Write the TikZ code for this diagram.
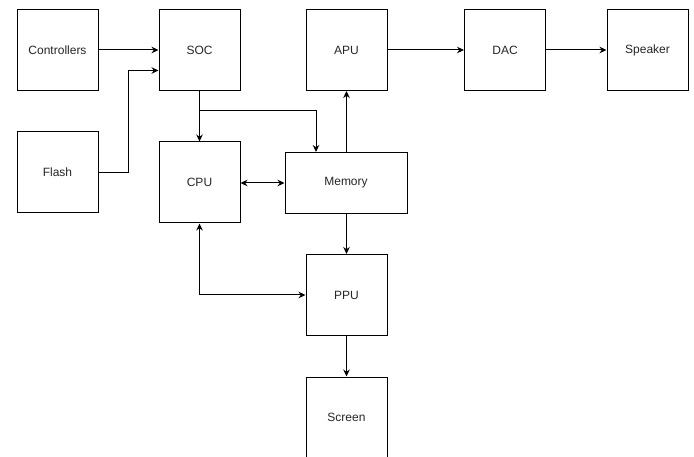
\documentclass[tikz,border=0pt]{standalone}
\usepackage{fontspec}
\setmainfont{Liberation Sans}
\usetikzlibrary{arrows.meta,calc}
\begin{document}
\begin{tikzpicture}[x=1pt,y=-1pt,
  blk/.style={draw=black,line width=1pt,fill=white,minimum width=81pt,minimum height=81pt,inner sep=0pt,font=\fontsize{12}{14}\selectfont,text=black!85},
  wide/.style={blk,minimum width=122pt,minimum height=61pt},
  conn/.style={line width=1pt,-{Stealth[length=7pt,width=6.5pt]}},
  bconn/.style={line width=1pt,{Stealth[length=7pt,width=6.5pt]}-{Stealth[length=7pt,width=6.5pt]}}]
\useasboundingbox (0,0) rectangle (694,457);
\node[blk] (ctrl) at (57.5,50) {Controllers};
\node[blk] (soc) at (199.5,50) {SOC};
\node[blk] (apu) at (346.5,50) {APU};
\node[blk] (dac) at (505,50) {DAC};
\node[blk] (spk) at (647.5,50) {Speaker};
\node[blk] (flash) at (57.5,172.5) {Flash};
\node[blk] (cpu) at (199.5,182.5) {CPU};
\node[wide] (mem) at (346,183) {Memory};
\node[blk] (ppu) at (346.5,295) {PPU};
\node[blk] (scr) at (346.5,417.5) {Screen};
\coordinate (fl) at (128,172.5);
\coordinate (socin) at ($(soc.west)+(0,20.5)$);
\coordinate (br) at (316,111);
\draw[conn] (ctrl) -- (soc);
\draw[conn] (flash.east) -- (fl) |- (socin);
\draw[conn] (soc) -- (cpu);
\draw[conn] (soc.south) |- (br) -- (br |- mem.north);
\draw[bconn] (cpu.east |- mem.west) -- (mem.west);
\draw[conn] (mem.north -| apu.south) -- (apu.south);
\draw[conn] (mem.south -| ppu.north) -- (ppu.north);
\draw[bconn] (cpu.south) |- (ppu.west);
\draw[conn] (ppu) -- (scr);
\draw[conn] (apu) -- (dac);
\draw[conn] (dac) -- (spk);
\end{tikzpicture}
\end{document}
